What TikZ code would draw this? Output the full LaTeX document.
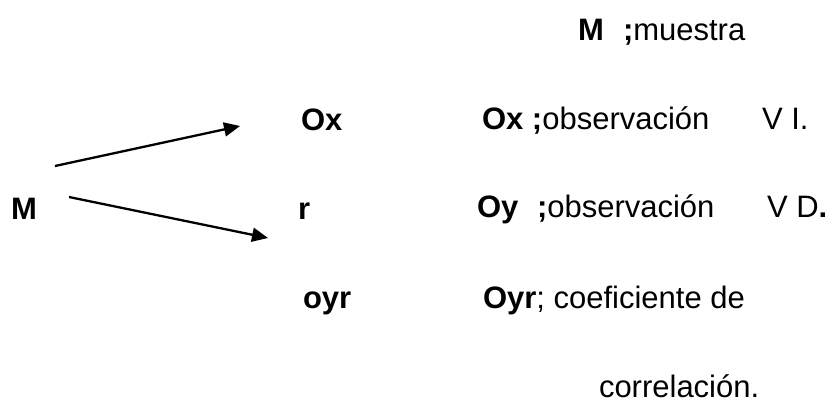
\documentclass[tikz,border=0pt]{standalone}
\usepackage{fontspec}
\setmainfont{Liberation Sans}
\usetikzlibrary{arrows.meta}
\begin{document}
\begin{tikzpicture}[x=1pt,y=-1pt,
  txt/.style={anchor=base west,inner sep=0pt,outer sep=0pt,font=\fontsize{31}{37}\selectfont},
  arr/.style={line width=2.3pt,-{Triangle[length=16pt,width=14pt]}}]
\useasboundingbox (0,0) rectangle (833,401);
% left column
\node[txt] (M) at (11,219) {\textbf{M}};
\node[txt] (Ox) at (301,131) {\textbf{Ox}};
\node[txt] (r) at (298,219) {\textbf{r}};
\node[txt] (oyr) at (303,308) {\textbf{oyr}};
% arrows
\coordinate (a1s) at (55,166);
\coordinate (a1e) at (240,126);
\coordinate (a2s) at (69,197);
\coordinate (a2e) at (268,238);
\draw[arr] (a1s) -- (a1e);
\draw[arr] (a2s) -- (a2e);
% legend
\node[txt] (lM) at (578,41) {\textbf{M}};
\node[txt] (lMt) at (623,41) {\textbf{;}muestra};
\node[txt] (lOx) at (482,130) {\textbf{Ox ;}observación};
\node[txt] (lVI) at (762,130) {V I.};
\node[txt] (lOy) at (477,218) {\textbf{Oy}};
\node[txt] (lOyt) at (537,218) {\textbf{;}observación};
\node[txt] (lVD) at (767,218) {V D\textbf{.}};
\node[txt] (lOyr) at (483,308) {\textbf{Oyr}; coeficiente de};
\node[txt] (lcor) at (599,397) {correlación.};
\end{tikzpicture}
\end{document}
